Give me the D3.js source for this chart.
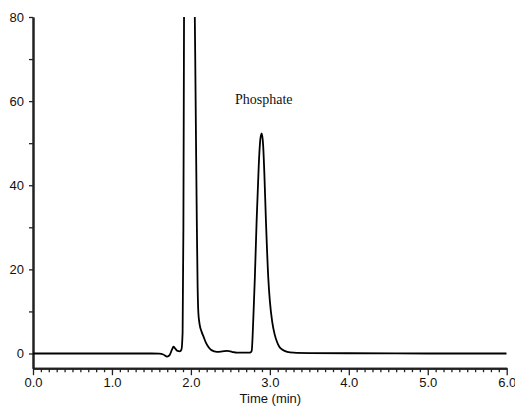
<!DOCTYPE html>
<html>
<head>
<meta charset="utf-8">
<script src="https://cdn.jsdelivr.net/npm/d3@7"></script>
<style>
  html, body { margin: 0; padding: 0; background: #fff; }
  svg { display: block; }
</style>
</head>
<body>
<div id="chart"></div>
<script>
// retention time (min) and detector signal
const times = [
  0.0, 0.5, 1.0, 1.5, 1.6, 1.65, 1.70, 1.73, 1.76, 1.78, 1.80, 1.83, 1.86, 1.88,
  1.895, 1.905, 1.913, 1.925, 1.98, 2.03, 2.045, 2.055, 2.065, 2.075, 2.085, 2.095,
  2.11, 2.135, 2.16, 2.19, 2.22, 2.26, 2.33, 2.40, 2.46, 2.52, 2.58, 2.66, 2.75,
  2.77, 2.79, 2.81, 2.833, 2.86, 2.88, 2.897, 2.915, 2.93, 2.95, 2.98, 3.00, 3.03,
  3.06, 3.09, 3.12, 3.16, 3.22, 3.30, 3.50, 4.0, 5.0, 6.0
];
const signal = [
  0, 0, 0, 0, -0.05, -0.25, -0.75, -0.4, 0.9, 1.6, 1.2, 0.6, 0.5, 0.9,
  5, 30, 80, 120, 160, 120, 88, 70, 50, 31, 16, 9.5,
  7, 5.2, 4, 2.6, 1.6, 0.8, 0.4, 0.5, 0.6, 0.4, 0.2, 0.2, 0.2,
  0.6, 8, 18, 31.8, 45, 51, 52.3, 49.5, 43, 31.8, 18, 12.5, 7.5,
  4.6, 2.8, 1.6, 0.9, 0.4, 0.2, 0.1, 0.05, 0, 0
];

const xMajor = [0, 1, 2, 3, 4, 5, 6];
const xMinor = d3.range(0, 61).map((d) => d / 10).filter((d) => Math.abs(d - Math.round(d)) > 1e-6);
const yMajor = [0, 20, 40, 60, 80];
const yMinor = [10, 30, 50, 70];

const width = 515;
const height = 406;
const font = "'Liberation Sans', Arial, Helvetica, sans-serif";

const x = d3.scaleLinear().domain([0, 6]).range([33, 506.7]);
const y = d3.scaleLinear().domain([-3.5, 80]).range([368.2, 17]);

const svg = d3.select("#chart")
  .append("svg")
  .attr("width", width)
  .attr("height", height);

svg.append("defs")
  .append("clipPath")
  .attr("id", "plot-clip")
  .append("rect")
  .attr("x", x(0))
  .attr("y", y(80))
  .attr("width", x(6) - x(0))
  .attr("height", y(-3.5) - y(80));

function styleAxis(g) {
  g.selectAll("path.domain").attr("stroke", "#222").attr("stroke-width", 2);
  g.selectAll(".tick line").attr("stroke", "#222").attr("stroke-width", 1.3);
  g.selectAll(".tick text")
    .attr("fill", "#111")
    .attr("font-family", font)
    .attr("font-size", 13);
}

// x axis: minor then major ticks
svg.append("g")
  .attr("transform", `translate(0,${y(-3.5)})`)
  .call(d3.axisBottom(x).tickValues(xMinor).tickSize(4).tickSizeOuter(0).tickFormat(""))
  .call(styleAxis);

svg.append("g")
  .attr("transform", `translate(0,${y(-3.5)})`)
  .call(d3.axisBottom(x).tickValues(xMajor).tickSize(7).tickSizeOuter(0).tickPadding(3).tickFormat(d3.format(".1f")))
  .call(styleAxis);

// y axis
svg.append("g")
  .attr("transform", `translate(${x(0)},0)`)
  .call(d3.axisLeft(y).tickValues(yMinor).tickSize(4).tickSizeOuter(0).tickFormat(""))
  .call(styleAxis);

svg.append("g")
  .attr("transform", `translate(${x(0)},0)`)
  .call(d3.axisLeft(y).tickValues(yMajor).tickSize(4).tickSizeOuter(0).tickPadding(5).tickFormat(d3.format("d")))
  .call(styleAxis);

svg.append("text")
  .attr("x", (x(0) + x(6)) / 2 + 0.5)
  .attr("y", 403)
  .attr("text-anchor", "middle")
  .attr("fill", "#111")
  .attr("font-family", font)
  .attr("font-size", 13)
  .text("Time (min)");

const points = times.map((t, i) => [t, signal[i]]);
const line = d3.line()
  .x((d) => x(d[0]))
  .y((d) => y(d[1]))
  .curve(d3.curveMonotoneX);

svg.append("path")
  .datum(points)
  .attr("clip-path", "url(#plot-clip)")
  .attr("d", line)
  .attr("fill", "none")
  .attr("stroke", "#000")
  .attr("stroke-width", 1.8)
  .attr("stroke-linejoin", "round");

svg.append("text")
  .attr("x", 235)
  .attr("y", 104)
  .attr("fill", "#111")
  .attr("font-family", "'Liberation Serif', 'Times New Roman', serif")
  .attr("font-size", 14)
  .text("Phosphate");
</script>
</body>
</html>
